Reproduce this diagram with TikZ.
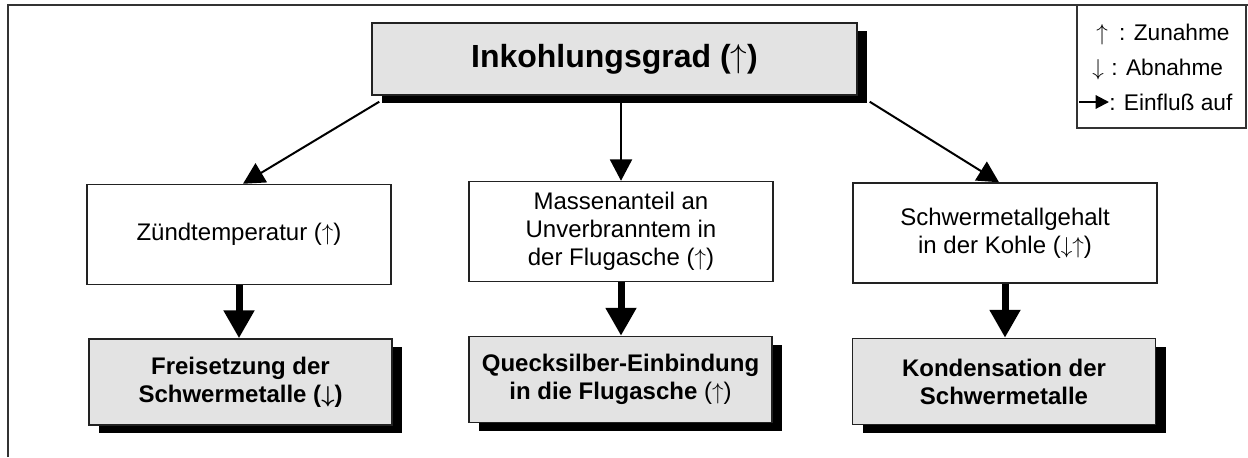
\documentclass[tikz,border=0pt]{standalone}
\usepackage{fontspec}
\setmainfont{Liberation Sans}
\usetikzlibrary{arrows.meta,shadows,calc}
\definecolor{boxgray}{HTML}{E3E3E3}
\definecolor{edgegray}{HTML}{222222}
\newcommand{\upar}{\ensuremath{\uparrow}}
\newcommand{\downar}{\ensuremath{\downarrow}}
\begin{document}
\begin{tikzpicture}[x=0.75pt,y=-0.75pt,
  framebox/.style={draw=edgegray,line width=1.1pt,inner sep=0pt,align=center},
  plainbox/.style={framebox,fill=white,minimum width=228pt,minimum height=75pt,
    font=\fontsize{18}{21}\selectfont},
  resultbox/.style={framebox,fill=boxgray,minimum width=227.25pt,minimum height=64.5pt,
    font=\fontsize{18}{21}\selectfont\bfseries,
    drop shadow={shadow xshift=7.5pt,shadow yshift=-6pt,fill=black,opacity=1}},
  titlebox/.style={framebox,fill=boxgray,minimum width=363.75pt,minimum height=54pt,
    font=\fontsize{24}{28}\selectfont\bfseries,
    drop shadow={shadow xshift=7.5pt,shadow yshift=-6pt,fill=black,opacity=1}},
  thinarrow/.style={line width=1.5pt,-{Triangle[width=16.5pt,length=16pt]}},
  thickarrow/.style={line width=5.25pt,-{Triangle[width=22pt,length=21pt]}},
  legendtext/.style={font=\fontsize{17}{20}\selectfont,anchor=west,inner sep=0pt}
]
\useasboundingbox (0,0) rectangle (1248,457);
% outer frame
\draw[line width=0.8pt,black!80] (8,457) -- (8,5) -- (1248,5);
% legend
\node[draw=black!80,line width=0.8pt,minimum width=126.75pt,minimum height=92.25pt,inner sep=0pt] (legend) at (1161.5,66.5) {};
\node[legendtext] (lup) at (1096,35) {\upar\,\,\,: Zunahme};
\node[legendtext] (ldown) at (1092,70) {\downar\,\,: Abnahme};
\node[legendtext] (linf) at (1109,102) {: Einfluß auf};
\coordinate (linfstart) at (1079,102);
\draw[line width=1.5pt,-{Triangle[width=10pt,length=10pt]}] (linfstart) -- (linf.west);
% boxes
\node[titlebox] (title) at (614.5,59) {Inkohlungsgrad (\upar)};
\node[plainbox] (zuend) at (239,234.5) {Zündtemperatur (\upar)};
\node[plainbox] (masse) at (621,231.5) {Massenanteil an\\Unverbranntem in\\der Flugasche (\upar)};
\node[plainbox] (schwer) at (1005,233) {Schwermetallgehalt\\in der Kohle (\downar\upar)};
\node[resultbox] (frei) at (240.5,382) {Freisetzung der\\Schwermetalle ({\boldmath\downar})};
\node[resultbox] (queck) at (620.5,379.5) {Quecksilber-Einbindung\\in die Flugasche {\mdseries(\upar)}};
\node[resultbox] (kond) at (1004,381.5) {Kondensation der\\Schwermetalle};
% connectors
\draw[thinarrow] ($(title.south west)+(8,6)$) -- ($(zuend.north)+(4,0)$);
\draw[thinarrow] (masse.north |- title.south) -- (masse.north);
\draw[thinarrow] ($(title.south east)+(12,6)$) -- ($(schwer.north)+(-6,0)$);
\draw[thickarrow] (zuend.south) -- (frei.north -| zuend.south);
\draw[thickarrow] (masse.south) -- (queck.north -| masse.south);
\draw[thickarrow] (schwer.south) -- (kond.north -| schwer.south);
\end{tikzpicture}
\end{document}
